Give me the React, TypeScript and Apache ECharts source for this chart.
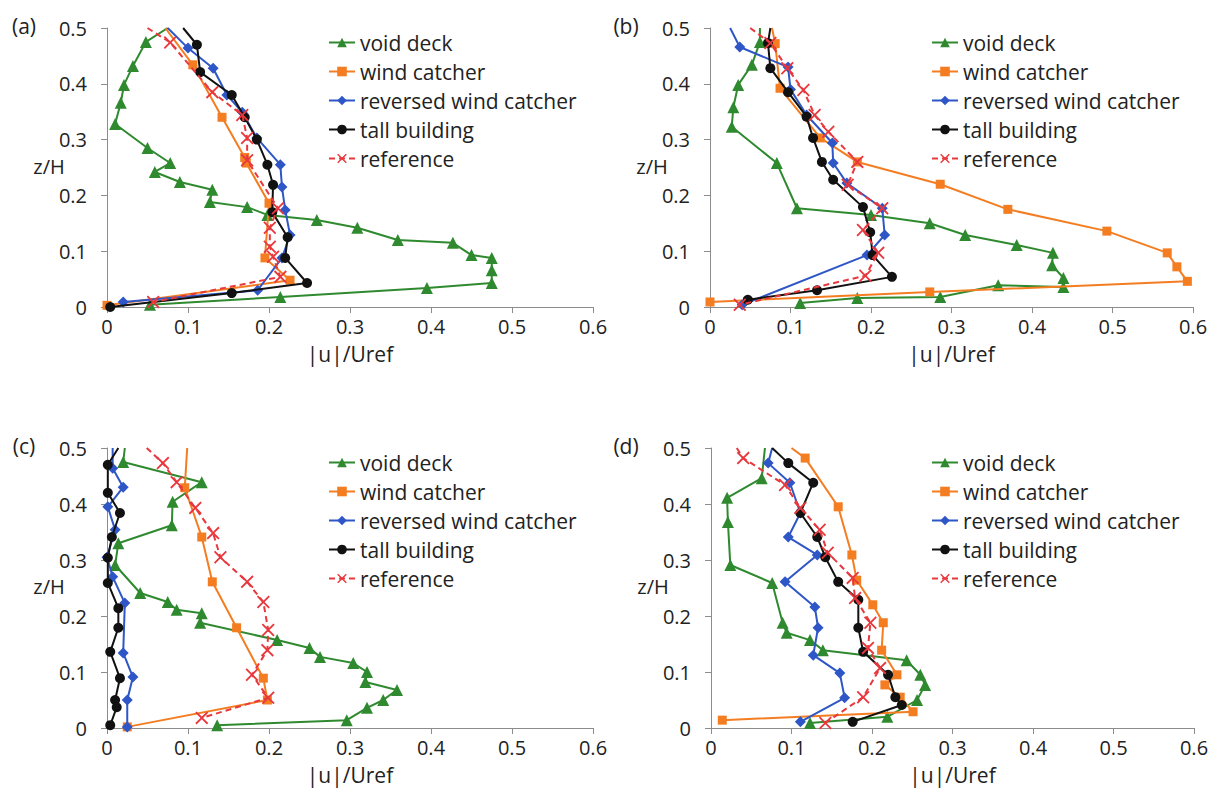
import React, { useEffect, useRef } from "react";
import * as echarts from "echarts";

const SERIES_NAMES = ["void deck", "wind catcher", "reversed wind catcher", "tall building", "reference"];
const PANEL_LABELS = ["(a)", "(b)", "(c)", "(d)"];
const X_AXIS_NAME = "|u|/Uref";
const Y_AXIS_NAME = "z/H";

// panel (a)
const aVoid = [[0.075,0.5],[0.048,0.475],[0.032,0.432],[0.021,0.398],[0.017,0.366],[0.01,0.328],[0.05,0.285],[0.078,0.258],[0.059,0.242],[0.09,0.224],[0.13,0.21],[0.127,0.188],[0.173,0.179],[0.198,0.165],[0.259,0.156],[0.309,0.142],[0.359,0.12],[0.427,0.115],[0.45,0.093],[0.475,0.088],[0.475,0.066],[0.475,0.043],[0.395,0.034],[0.214,0.018],[0.053,0.004]];
const aWind = [[0.072,0.5],[0.106,0.434],[0.142,0.34],[0.17,0.268],[0.172,0.258],[0.2,0.186],[0.195,0.088],[0.226,0.048],[0.0,0.003]];
const aRev = [[0.075,0.5],[0.1,0.464],[0.131,0.428],[0.148,0.38],[0.167,0.349],[0.185,0.303],[0.214,0.255],[0.216,0.215],[0.22,0.174],[0.226,0.129],[0.216,0.088],[0.186,0.03],[0.02,0.009]];
const aTall = [[0.094,0.5],[0.111,0.47],[0.115,0.421],[0.154,0.38],[0.17,0.34],[0.185,0.3],[0.198,0.255],[0.205,0.219],[0.204,0.17],[0.223,0.125],[0.22,0.088],[0.247,0.043],[0.154,0.025],[0.004,0.0]];
const aRef = [[0.05,0.5],[0.078,0.474],[0.13,0.385],[0.167,0.344],[0.173,0.303],[0.173,0.263],[0.211,0.177],[0.201,0.142],[0.201,0.108],[0.205,0.09],[0.214,0.054],[0.057,0.009]];

// panel (b)
const bVoid = [[0.062,0.5],[0.062,0.475],[0.052,0.434],[0.035,0.398],[0.029,0.358],[0.027,0.323],[0.083,0.258],[0.108,0.177],[0.2,0.165],[0.273,0.15],[0.317,0.129],[0.381,0.111],[0.426,0.097],[0.425,0.075],[0.439,0.052],[0.439,0.036],[0.358,0.039],[0.286,0.018],[0.183,0.016],[0.112,0.007]];
const bWind = [[0.077,0.5],[0.081,0.472],[0.087,0.392],[0.137,0.303],[0.183,0.26],[0.286,0.22],[0.37,0.175],[0.493,0.136],[0.568,0.097],[0.58,0.072],[0.593,0.046],[0.273,0.027],[0.0,0.009]];
const bRev = [[0.025,0.5],[0.037,0.466],[0.097,0.43],[0.1,0.39],[0.12,0.344],[0.152,0.294],[0.153,0.258],[0.17,0.222],[0.214,0.177],[0.217,0.129],[0.195,0.093],[0.04,0.004]];
const bTall = [[0.075,0.5],[0.072,0.473],[0.075,0.428],[0.097,0.385],[0.12,0.341],[0.128,0.303],[0.139,0.26],[0.153,0.228],[0.19,0.179],[0.199,0.134],[0.202,0.093],[0.226,0.054],[0.133,0.03],[0.047,0.013]];
const bRef = [[0.05,0.5],[0.075,0.473],[0.096,0.428],[0.116,0.389],[0.13,0.344],[0.147,0.314],[0.183,0.26],[0.171,0.219],[0.214,0.177],[0.19,0.138],[0.209,0.097],[0.193,0.056],[0.037,0.004]];

// panel (c)
const cVoid = [[0.022,0.5],[0.02,0.475],[0.117,0.439],[0.081,0.404],[0.08,0.362],[0.014,0.33],[0.01,0.291],[0.041,0.241],[0.075,0.225],[0.086,0.211],[0.117,0.205],[0.115,0.188],[0.21,0.157],[0.25,0.143],[0.263,0.127],[0.304,0.116],[0.321,0.1],[0.319,0.082],[0.358,0.068],[0.341,0.05],[0.321,0.036],[0.296,0.014],[0.136,0.005]];
const cWind = [[0.099,0.5],[0.096,0.429],[0.117,0.341],[0.13,0.261],[0.16,0.179],[0.193,0.089],[0.198,0.05],[0.025,0.002]];
const cRev = [[0.007,0.5],[0.007,0.464],[0.02,0.43],[0.001,0.395],[0.01,0.354],[0.0,0.305],[0.007,0.27],[0.022,0.223],[0.02,0.134],[0.032,0.091],[0.025,0.05],[0.025,0.002]];
const cTall = [[0.014,0.5],[0.001,0.47],[0.001,0.42],[0.016,0.384],[0.006,0.341],[0.001,0.304],[0.001,0.259],[0.014,0.214],[0.014,0.179],[0.004,0.136],[0.016,0.089],[0.01,0.05],[0.012,0.037],[0.004,0.005]];
const cRef = [[0.049,0.5],[0.069,0.473],[0.086,0.439],[0.109,0.393],[0.131,0.348],[0.14,0.305],[0.173,0.261],[0.193,0.225],[0.199,0.175],[0.198,0.139],[0.179,0.095],[0.199,0.054],[0.117,0.018]];

// panel (d)
const dVoid = [[0.067,0.5],[0.063,0.446],[0.02,0.411],[0.021,0.368],[0.024,0.291],[0.076,0.259],[0.089,0.188],[0.094,0.17],[0.123,0.157],[0.139,0.139],[0.243,0.121],[0.26,0.095],[0.266,0.077],[0.256,0.05],[0.219,0.02],[0.123,0.009]];
const dWind = [[0.1,0.5],[0.117,0.482],[0.158,0.395],[0.175,0.309],[0.181,0.264],[0.201,0.22],[0.214,0.188],[0.212,0.139],[0.231,0.095],[0.216,0.077],[0.235,0.055],[0.251,0.029],[0.014,0.014]];
const dRev = [[0.076,0.5],[0.071,0.473],[0.098,0.438],[0.111,0.384],[0.096,0.341],[0.132,0.309],[0.092,0.261],[0.129,0.216],[0.133,0.179],[0.127,0.13],[0.16,0.098],[0.166,0.054],[0.111,0.011]];
const dTall = [[0.076,0.5],[0.096,0.473],[0.127,0.438],[0.111,0.384],[0.132,0.341],[0.142,0.305],[0.158,0.261],[0.183,0.229],[0.183,0.179],[0.189,0.136],[0.22,0.095],[0.229,0.055],[0.237,0.041],[0.176,0.011]];
const dRef = [[0.032,0.5],[0.04,0.482],[0.092,0.434],[0.111,0.393],[0.135,0.354],[0.145,0.313],[0.176,0.268],[0.179,0.232],[0.198,0.188],[0.195,0.143],[0.21,0.107],[0.189,0.055],[0.142,0.009]];

const PANEL_DATA = [
  [aVoid, aWind, aRev, aTall, aRef],
  [bVoid, bWind, bRev, bTall, bRef],
  [cVoid, cWind, cRev, cTall, cRef],
  [dVoid, dWind, dRev, dTall, dRef],
];

const FONT = "Open Sans";
const CROSS = "path://M1,0 L5,4 L9,0 L10,1 L6,5 L10,9 L9,10 L5,6 L1,10 L0,9 L4,5 L0,1 Z";
const STYLES = [
  { color: "#2f8a2f", symbol: "triangle", size: 12, dash: "solid" },
  { color: "#f47d22", symbol: "rect", size: 9, dash: "solid" },
  { color: "#2e56c6", symbol: "diamond", size: 11, dash: "solid" },
  { color: "#111111", symbol: "circle", size: 10, dash: "solid" },
  { color: "#e8383d", symbol: CROSS, size: 13, dash: [6, 4] },
];

const GRIDS = [
  { left: 107, top: 28, width: 486, height: 279 },
  { left: 710, top: 28, width: 483, height: 279 },
  { left: 107, top: 448, width: 486, height: 280 },
  { left: 711, top: 448, width: 483, height: 280 },
];
const LEGEND_POS = [
  { left: 323, top: 27 },
  { left: 926, top: 27 },
  { left: 323, top: 447 },
  { left: 926, top: 447 },
];
const LABEL_POS = [
  { x: 24, y: 26 },
  { x: 626, y: 26 },
  { x: 24, y: 446 },
  { x: 626, y: 446 },
];

export default function App() {
  const ref = useRef<HTMLDivElement>(null);
  useEffect(() => {
    if (!ref.current) return;
    const chart = echarts.init(ref.current, undefined, { renderer: "svg" });
    const axisLine = { show: true, lineStyle: { color: "#8c8c8c", width: 1 } };
    const axisTick = { show: true, length: 6, lineStyle: { color: "#8c8c8c" } };
    const labelStyle = { color: "#222", fontSize: 20, fontFamily: FONT };

    const xAxis = GRIDS.map((_, i) => ({
      type: "value", gridIndex: i, min: 0, max: 0.6, interval: 0.1,
      axisLine, axisTick, splitLine: { show: false },
      axisLabel: { ...labelStyle, margin: 9 },
      name: X_AXIS_NAME, nameLocation: "middle", nameGap: 36,
      nameTextStyle: { ...labelStyle, fontSize: 21 },
    }));
    const yAxis = GRIDS.map((_, i) => ({
      type: "value", gridIndex: i, min: 0, max: 0.5, interval: 0.1,
      axisLine, axisTick, splitLine: { show: false },
      axisLabel: { ...labelStyle, margin: 20 },
    }));
    const series: any[] = [];
    PANEL_DATA.forEach((panel, p) => {
      panel.forEach((arr, s) => {
        const st = STYLES[s];
        series.push({
          type: "line", name: SERIES_NAMES[s], xAxisIndex: p, yAxisIndex: p,
          data: arr.map((pt) => (pt[1] >= 0.5 ? { value: pt, symbol: "none" } : { value: pt })),
          symbol: st.symbol, symbolSize: st.size, showAllSymbol: true,
          itemStyle: { color: st.color },
          lineStyle: { color: st.color, width: 2, type: st.dash },
          clip: true, z: 2 + s,
        });
      });
    });
    const legend = LEGEND_POS.map((pos) => ({
      orient: "vertical", left: pos.left, top: pos.top,
      data: SERIES_NAMES, itemWidth: 26, itemHeight: 12, itemGap: 8,
      textStyle: { color: "#222", fontSize: 21, fontFamily: FONT },
      selectedMode: false,
    }));
    const graphic: any[] = [];
    LABEL_POS.forEach((pos, i) => {
      graphic.push({ type: "text", x: pos.x, y: pos.y, style: { text: PANEL_LABELS[i], fill: "#222", font: `21px '${FONT}'`, textAlign: "center", textVerticalAlign: "middle" } });
    });
    GRIDS.forEach((g) => {
      graphic.push({ type: "text", x: g.left - 58, y: g.top + 138, style: { text: Y_AXIS_NAME, fill: "#222", font: `20px '${FONT}'`, textAlign: "center", textVerticalAlign: "middle" } });
    });
    chart.setOption({
      animation: false,
      backgroundColor: "#fff",
      grid: GRIDS.map((g) => ({ ...g, containLabel: false })),
      xAxis, yAxis, series, legend, graphic,
    });
    return () => chart.dispose();
  }, []);
  return <div ref={ref} style={{ position: "absolute", left: 0, top: 0, width: 1224, height: 800 }} />;
}
